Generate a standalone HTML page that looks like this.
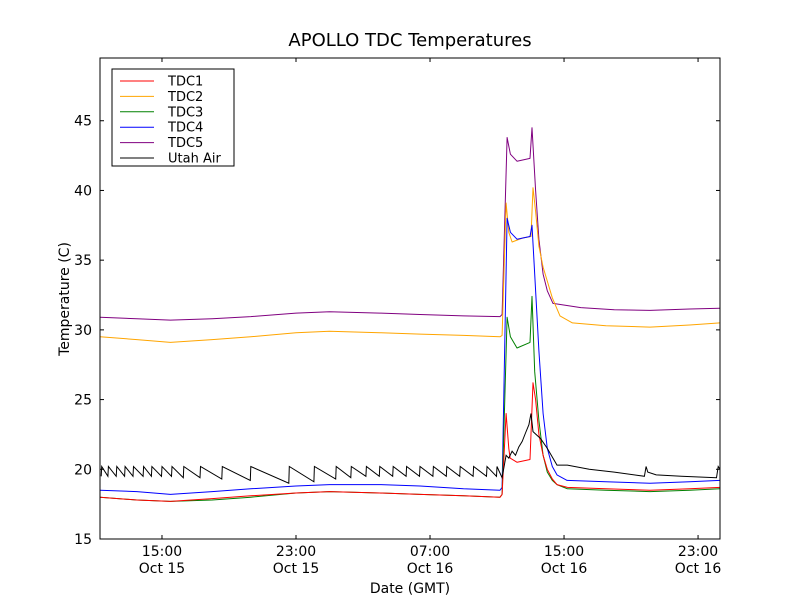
<!DOCTYPE html>
<html><head><meta charset="utf-8"><style>
body{margin:0;background:#fff;font-family:"Liberation Sans","DejaVu Sans",sans-serif}
svg text{font-family:"DejaVu Sans","Liberation Sans",sans-serif}
</style></head><body>
<svg id="chart" width="800" height="600" xmlns="http://www.w3.org/2000/svg">
<rect width="800" height="600" fill="#fff"/>
<text x="410" y="46" font-size="18" text-anchor="middle">APOLLO TDC Temperatures</text>
<g id="plot"></g>
<text x="410" y="593" font-size="14" text-anchor="middle">Date (GMT)</text>
<text transform="translate(69,299) rotate(-90)" font-size="14" text-anchor="middle">Temperature (C)</text>
</svg>
<script>
const xTicks=[15,23,31,39,47];
const xTickTime=["15:00","23:00","07:00","15:00","23:00"];
const xTickDate=["Oct 15","Oct 15","Oct 16","Oct 16","Oct 16"];
const yTicks=[15,20,25,30,35,40,45];
const seriesNames=["TDC1","TDC2","TDC3","TDC4","TDC5","Utah Air"];
const seriesColors=["red","orange","green","blue","purple","black"];
const tdc1H=[11.3,13.5,15.5,18.0,20.3,23.0,25.0,28.0,30.4,33.0,35.18,35.3,35.54,35.7,35.78,36.2,36.97,37.15,37.3,37.5,37.75,38.0,38.3,38.58,39.2,41.5,44.13,46.5,48.31];
const tdc1V=[18.0,17.8,17.7,17.9,18.1,18.3,18.4,18.3,18.2,18.1,18.0,18.2,24.0,21.5,20.8,20.5,20.7,26.2,25.0,22.5,21.0,20.0,19.3,18.9,18.7,18.6,18.5,18.6,18.7];
const tdc2H=[11.3,13.5,15.5,18.0,20.3,23.0,25.0,28.0,30.4,33.0,35.18,35.3,35.54,35.7,35.9,36.55,37.03,37.15,37.3,37.5,37.75,38.0,38.3,38.76,39.5,41.5,44.13,46.5,48.31];
const tdc2V=[29.5,29.3,29.1,29.3,29.5,29.8,29.9,29.8,29.7,29.6,29.5,29.6,39.1,37.0,36.3,36.6,36.7,40.2,38.5,36.0,34.5,33.5,32.3,31.0,30.5,30.3,30.2,30.35,30.5];
const tdc3H=[11.3,13.5,15.5,18.0,20.3,23.0,25.0,28.0,30.4,33.0,35.18,35.3,35.6,35.8,36.19,36.97,37.09,37.25,37.5,37.75,38.0,38.3,38.58,39.2,41.5,44.13,46.5,48.31];
const tdc3V=[18.0,17.8,17.7,17.8,18.0,18.3,18.4,18.3,18.2,18.1,18.0,18.2,30.9,29.5,28.7,29.1,32.4,27.0,23.5,21.0,19.8,19.2,18.9,18.6,18.5,18.4,18.5,18.6];
const tdc4H=[11.3,13.5,15.5,18.0,20.3,23.0,25.0,28.0,30.4,33.0,35.18,35.3,35.6,35.8,36.19,36.97,37.09,37.25,37.5,37.75,38.0,38.3,38.58,39.18,41.5,44.13,46.5,48.31];
const tdc4V=[18.5,18.4,18.2,18.4,18.6,18.8,18.9,18.9,18.8,18.6,18.5,18.7,38.0,37.0,36.5,36.7,37.5,34.0,28.5,24.0,21.5,20.2,19.6,19.2,19.1,19.0,19.1,19.2];
const tdc5H=[11.3,13.5,15.5,18.0,20.3,23.0,25.0,28.0,30.4,33.0,35.18,35.3,35.6,35.8,36.19,36.97,37.09,37.3,37.5,37.75,38.0,38.34,40.0,42.0,44.13,46.5,48.31];
const tdc5V=[30.9,30.8,30.7,30.8,30.95,31.2,31.3,31.2,31.1,31.0,30.95,31.1,43.8,42.6,42.1,42.3,44.5,40.0,36.5,34.0,32.8,31.9,31.6,31.45,31.4,31.5,31.55];
const utahPeakH=[11.4,11.8,12.3,12.8,13.3,13.9,14.4,15.0,15.6,16.3,17.3,18.6,20.3,22.6,24.1,25.4,26.3,27.2,28.0,28.8,29.6,30.4,31.2,32.0,32.8,33.6,34.4,35.0];
const utahPeakV=[20.2,20.2,20.2,20.2,20.2,20.2,20.2,20.2,20.2,20.2,20.2,20.2,20.2,20.2,20.2,20.2,20.2,20.2,20.2,20.2,20.2,20.2,20.2,20.2,20.2,20.2,20.2,20.2];
const utahTroughV=[19.5,19.5,19.5,19.5,19.5,19.5,19.5,19.5,19.5,19.4,19.4,19.3,19.2,19.0,19.1,19.3,19.4,19.5,19.5,19.5,19.5,19.5,19.5,19.5,19.5,19.5,19.5,19.5];
const utahH=[35.3,35.54,35.7,35.9,36.1,36.3,36.5,36.7,36.9,37.03,37.15,37.6,38.0,38.58,39.2,40.5,42.0,43.8,43.9,44.0,44.5,46.0,48.1,48.2,48.31];
const utahV=[19.4,21.0,20.8,21.3,21.0,21.6,22.0,22.6,23.2,24.0,22.7,22.2,21.5,20.3,20.3,20.0,19.8,19.5,20.2,19.8,19.6,19.5,19.4,20.2,20.0];

const L=100,R=720,T=58,B=539,XMIN=11.3,XMAX=48.31,YMIN=15,YMAX=49.5;
const sx=h=>L+(h-XMIN)/(XMAX-XMIN)*(R-L);
const sy=v=>B-(v-YMIN)/(YMAX-YMIN)*(B-T);
const NS="http://www.w3.org/2000/svg";
const plot=document.getElementById('plot');
function mk(tag,attrs,parent){const e=document.createElementNS(NS,tag);for(const k in attrs)e.setAttribute(k,attrs[k]);(parent||plot).appendChild(e);return e;}
const uh=[],uv=[];
for(let i=0;i<utahPeakH.length;i++){
  uh.push(utahPeakH[i]-0.03);uv.push(utahTroughV[i]);
  uh.push(utahPeakH[i]);uv.push(utahPeakV[i]);
}
for(let i=0;i<utahH.length;i++){uh.push(utahH[i]);uv.push(utahV[i]);}
const cp=mk('clipPath',{id:'clip'});mk('rect',{x:L,y:T,width:R-L,height:B-T},cp);
const g=mk('g',{'clip-path':'url(#clip)'});
const allH=[tdc5H,tdc2H,tdc4H,tdc3H,tdc1H],allV=[tdc5V,tdc2V,tdc4V,tdc3V,tdc1V];
const idx=[4,1,3,2,0];
idx.forEach((si,k)=>{
  const d=allH[k].map((h,i)=>(i?'L':'M')+sx(h).toFixed(1)+','+sy(allV[k][i]).toFixed(1)).join('');
  const p=mk('path',{d:d,fill:'none',stroke:seriesColors[si],'stroke-width':1,'stroke-linejoin':'round'},g);
  
  
});
{
  const d=uh.map((h,i)=>(i?'L':'M')+sx(h).toFixed(1)+','+sy(uv[i]).toFixed(1)).join('');
  const p=mk('path',{d:d,fill:'none',stroke:'black','stroke-width':1},g);
  
  
}
const frame=mk('rect',{x:L,y:T,width:R-L,height:B-T,fill:'none',stroke:'#000','stroke-width':1});


yTicks.forEach(v=>{
  const y=sy(v);
  mk('line',{x1:L,x2:L+4,y1:y,y2:y,stroke:'#000'});
  mk('line',{x1:R,x2:R-4,y1:y,y2:y,stroke:'#000'});
  const t=mk('text',{x:L-8,y:y+5,'font-size':14,'text-anchor':'end'});t.textContent=v;
  
  
});
xTicks.forEach((h,i)=>{
  const x=sx(h);
  mk('line',{x1:x,x2:x,y1:B,y2:B-4,stroke:'#000'});
  mk('line',{x1:x,x2:x,y1:T,y2:T+4,stroke:'#000'});
  const t=mk('text',{x:x,y:B+17,'font-size':14,'text-anchor':'middle'});t.textContent=xTickTime[i];
  
  
  const t2=mk('text',{x:x,y:B+34,'font-size':14,'text-anchor':'middle'});t2.textContent=xTickDate[i];
  
  
});
const lg=mk('g',{});


mk('rect',{x:112,y:69,width:122,height:97,fill:'#fff',stroke:'#000'},lg);
seriesNames.forEach((n,i)=>{
  const y=81+i*15.4;
  mk('line',{x1:120,x2:154,y1:y,y2:y,stroke:seriesColors[i]},lg);
  const t=mk('text',{x:168,y:y+4.5,'font-size':13},lg);t.textContent=n;
  
  
});
</script>
</body></html>
